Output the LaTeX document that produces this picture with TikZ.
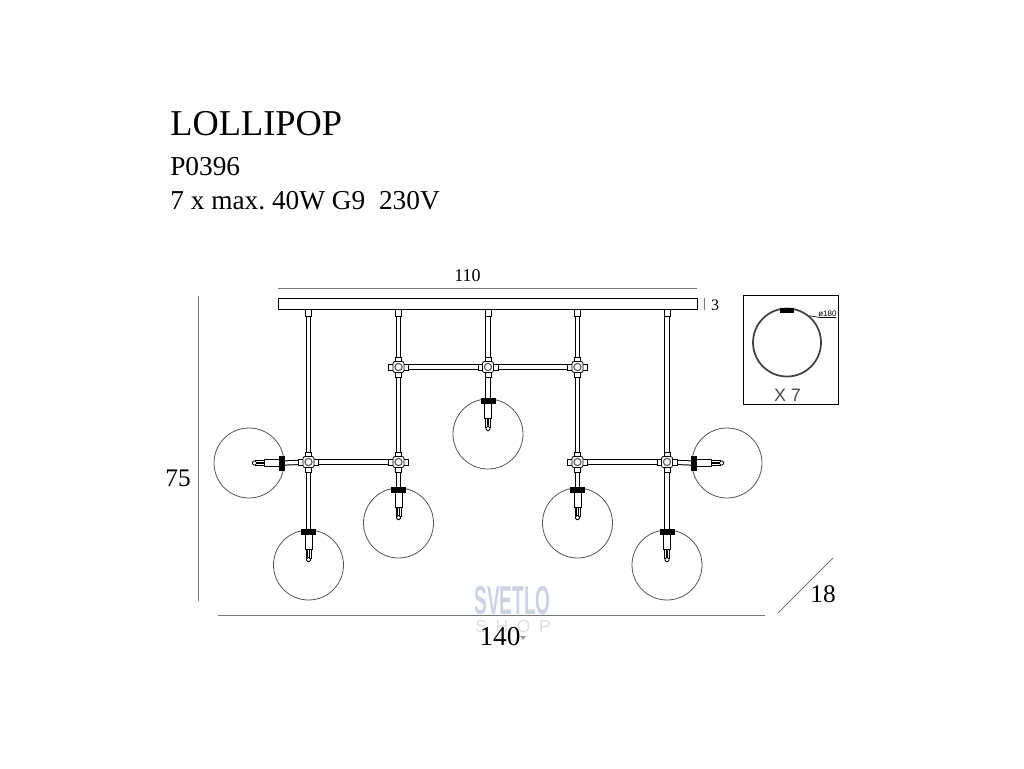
\documentclass[tikz,border=0pt]{standalone}
\usepackage{fontspec}
\setmainfont{Liberation Serif}
\newfontfamily\sansfont{Liberation Sans}
\usetikzlibrary{positioning}
\definecolor{dimline}{RGB}{120, 120, 120}
\definecolor{globeline}{RGB}{85, 85, 85}
\definecolor{markblue}{RGB}{205, 210, 228}
\definecolor{markgrey}{RGB}{222, 222, 222}
\tikzset{
    tube/.style={preaction={draw=black, line width=3.9pt}, draw=white, line width=2.4pt},
    globe/.style={circle, draw=globeline, line width=0.6pt, minimum size=52.5pt, inner sep=0pt},
    dimension/.style={draw=dimline, line width=0.6pt},
    partbox/.style={draw=black, fill=white, line width=0.6pt},
    joint/.pic={
        \draw[partbox] (-3,-10) rectangle (3,-5);
        \draw[partbox] (-3,5) rectangle (3,10);
        \draw[partbox] (-10,-3) rectangle (-5,3);
        \draw[partbox] (5,-3) rectangle (10,3);
        \draw[partbox, rounded corners=1.5pt] (-5.5,-5.5) rectangle (5.5,5.5);
        \draw[draw=globeline, fill=white, line width=0.8pt] (0,0) circle (3.6);
    },
    lamp/.pic={
        \draw[partbox] (-3.5,5) rectangle (3.5,20);
        \draw[partbox, fill=black] (-7,0) rectangle (7,5);
        \draw[partbox] (-2.5,20) rectangle (2.5,29);
        \draw[black, line width=0.7pt] (-0.8,20) -- (-0.8,28) (0.8,20) -- (0.8,28);
        \draw[partbox, rounded corners=1pt] (-2,28) rectangle (2,32);
    },
    stemcap/.pic={
        \draw[partbox] (-3,0) rectangle (3,7);
    }
}
\begin{document}
\frenchspacing
\begin{tikzpicture}[x=0.75pt, y=-0.75pt]
    \useasboundingbox (0,0) rectangle (1024,768);
    % watermark
    \node[text=markblue, font=\sansfont\bfseries\fontsize{27pt}{27pt}\selectfont, xscale=0.53, yscale=1.12, inner sep=0pt] (mark) at (512.5,601) {SVETLO};
    \node[text=markgrey, font=\sansfont\fontsize{13pt}{13pt}\selectfont, inner sep=0pt] (shop) at (513,627) {S\hspace{6.5pt}H\hspace{6.5pt}O\hspace{6.5pt}P};
    \fill[markgrey!70!black] (520,636) -- (526,636) -- (523,640) -- cycle;
    % header
    \node[anchor=base west, inner sep=0pt, font=\fontsize{27.3pt}{27.3pt}\selectfont] (name) at (170,135) {LOLLIPOP};
    \node[anchor=base west, inner sep=0pt, font=\fontsize{20.5pt}{20.5pt}\selectfont] (code) at (170,175) {P0396};
    \node[anchor=base west, inner sep=0pt, font=\fontsize{20.5pt}{20.5pt}\selectfont] (spec) at (170,209) {7 x max. 40W G9\hspace{0.25em} 230V};
    % dimensions
    \draw[dimension] (278,288) -- (697,288);
    \draw[dimension] (198,296) -- (198,601);
    \draw[dimension] (218,615) -- (765,615);
    \draw[dimension] (778,613) -- (833,558);
    \draw[dimension] (704.5,298) -- (704.5,310);
    \node[font=\fontsize{13.5pt}{13.5pt}\selectfont, inner sep=0pt] (top) at (467.5,276) {110};
    \node[font=\fontsize{12pt}{12pt}\selectfont, inner sep=0pt] (thick) at (715,305) {3};
    \node[font=\fontsize{19pt}{19pt}\selectfont, inner sep=0pt] (height) at (178,478) {75};
    \node[font=\fontsize{20.5pt}{20.5pt}\selectfont, inner sep=0pt] (width) at (500,637) {140};
    \node[font=\fontsize{19pt}{19pt}\selectfont, inner sep=0pt] (depth) at (823,594) {18};
    % joints
    \coordinate (ja) at (398.5,367);
    \coordinate (jb) at (488,367);
    \coordinate (jc) at (577.5,367);
    \coordinate (jd) at (308.5,462);
    \coordinate (je) at (398.5,462);
    \coordinate (jf) at (577.5,462);
    \coordinate (jg) at (667,462);
    % globes
    \node[globe] (gleft) at (249,463) {};
    \node[globe] (gone) at (308.5,565) {};
    \node[globe] (gtwo) at (398.5,523) {};
    \node[globe] (gthree) at (488,434) {};
    \node[globe] (gfour) at (577.5,523) {};
    \node[globe] (gfive) at (667,565) {};
    \node[globe] (gright) at (727,463) {};
    % tubes
    \draw[tube] (308.5,309) -- (jd);
    \draw[tube] (jd) -- (gone.north);
    \draw[tube] (398.5,309) -- (ja);
    \draw[tube] (ja) -- (je);
    \draw[tube] (je) -- (gtwo.north);
    \draw[tube] (488,309) -- (jb);
    \draw[tube] (jb) -- (gthree.north);
    \draw[tube] (577.5,309) -- (jc);
    \draw[tube] (jc) -- (jf);
    \draw[tube] (jf) -- (gfour.north);
    \draw[tube] (667,309) -- (jg);
    \draw[tube] (jg) -- (gfive.north);
    \draw[tube] (ja) -- (jb);
    \draw[tube] (jb) -- (jc);
    \draw[tube] (jd) -- (je);
    \draw[tube] (jf) -- (jg);
    \draw[tube] (gleft.east) -- (jd);
    \draw[tube] (gright.west) -- (jg);
    % ceiling bar
    \draw[draw=black, fill=white, line width=0.7pt] (278,298) rectangle (697,309);
    \pic at (308.5,309) {stemcap};
    \pic at (398.5,309) {stemcap};
    \pic at (488,309) {stemcap};
    \pic at (577.5,309) {stemcap};
    \pic at (667,309) {stemcap};
    \pic at (ja) {joint};
    \pic at (jb) {joint};
    \pic at (jc) {joint};
    \pic at (jd) {joint};
    \pic at (je) {joint};
    \pic at (jf) {joint};
    \pic at (jg) {joint};
    % lamp holders
    \pic[rotate=-90] at (gleft.east) {lamp};
    \pic at (gone.north) {lamp};
    \pic at (gtwo.north) {lamp};
    \pic at (gthree.north) {lamp};
    \pic at (gfour.north) {lamp};
    \pic at (gfive.north) {lamp};
    \pic[rotate=90] at (gright.west) {lamp};
    % detail box
    \draw[draw=black, line width=0.7pt] (743.5,295.5) rectangle (838,404);
    \node[circle, draw=black!75, line width=1.3pt, minimum size=51pt, inner sep=0pt] (detail) at (787,342.5) {};
    \draw[fill=black, draw=none] (780,308) rectangle (794,312.5);
    \coordinate (callout) at (820,317.5);
    \draw[black, line width=0.5pt] (detail.50) -- (callout) -- (836,317.5);
    \node[anchor=base west, inner sep=0pt, font=\sansfont\fontsize{6pt}{6pt}\selectfont] (size) at (818,316.5) {ø180};
    \node[font=\sansfont\fontsize{13.5pt}{13.5pt}\selectfont, text=black!70, inner sep=0pt] (count) at (787.5,395) {X 7};
\end{tikzpicture}
\end{document}
